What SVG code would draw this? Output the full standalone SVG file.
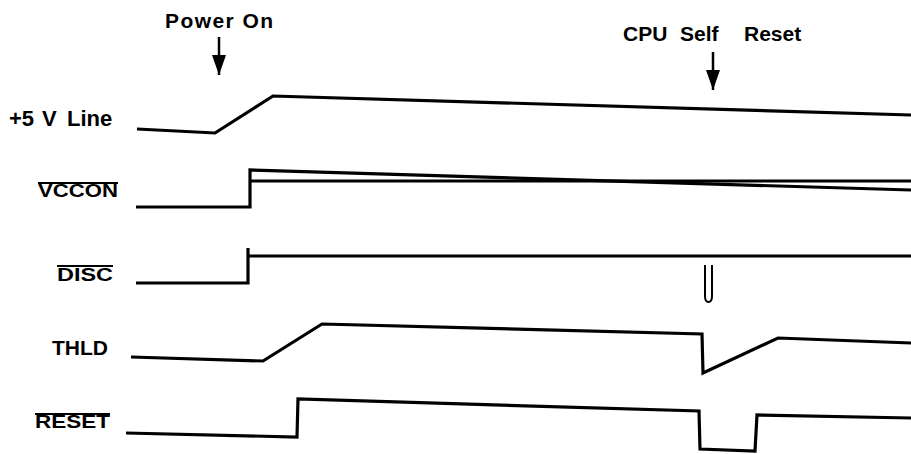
<svg xmlns="http://www.w3.org/2000/svg" width="911" height="454" viewBox="0 0 911 454">
<style>
.sig{fill:none;stroke:#000;stroke-width:3.2;stroke-linejoin:miter;stroke-linecap:butt}
.thin{fill:none;stroke:#000;stroke-width:2}
.lbl{font-family:"Liberation Sans",Arial,sans-serif;font-weight:bold;fill:#000}
.ov{stroke:#000;stroke-width:1.8}
.arr{stroke:#000;stroke-width:2.5;fill:none}
</style>
<defs>
<marker id="ah" viewBox="0 0 20 14" refX="20" refY="7" markerWidth="20" markerHeight="14" markerUnits="userSpaceOnUse" orient="auto">
<path d="M0,0 L20,7 L0,14 z" fill="#000"/>
</marker>
</defs>
<rect width="911" height="454" fill="#fff"/>
<g id="power-on">
<text class="lbl" x="165" y="28" font-size="21" textLength="108" lengthAdjust="spacing">Power On</text>
</g>
<g id="cpu-self-reset">
<text class="lbl" y="41" font-size="21"><tspan x="623">CPU</tspan><tspan x="680">Self</tspan><tspan x="744">Reset</tspan></text>
</g>
<g id="line-5v">
<text class="lbl" y="126" font-size="22"><tspan x="9">+5</tspan><tspan x="42">V</tspan><tspan x="67">Line</tspan></text>
<path class="sig" d="M137,129 L215,133 L273,96 L911,115"/>
</g>
<g id="vccon">
<text class="lbl" x="38" y="197" font-size="19" textLength="80" lengthAdjust="spacingAndGlyphs">VCCON</text>
<line class="ov" x1="38" y1="183" x2="118" y2="183"/>
<path class="sig" d="M136,207 L250,207 L250,170 L911,190"/>
<path class="sig" d="M251,181 L911,181"/>
</g>
<g id="disc">
<text class="lbl" x="57" y="281" font-size="19" textLength="56" lengthAdjust="spacingAndGlyphs">DISC</text>
<line class="ov" x1="57" y1="266" x2="113" y2="266"/>
<path class="sig" d="M136,283 L248,283 L248,248"/>
<path class="sig" d="M248,256 L911,256"/>
<path class="thin" d="M705,265 L705,296 Q705,302 708.5,302 Q712,302 712,296 L712,265"/>
</g>
<g id="thld">
<text class="lbl" x="52" y="355" font-size="20" textLength="56" lengthAdjust="spacingAndGlyphs">THLD</text>
<path class="sig" d="M131,357 L263,361 L322,324 L702,334 L703,373 L778,338 L911,343"/>
</g>
<g id="reset">
<text class="lbl" x="35" y="428" font-size="19" textLength="75" lengthAdjust="spacingAndGlyphs">RESET</text>
<line class="ov" x1="35" y1="414" x2="110" y2="414"/>
<path class="sig" d="M126,433 L297,437 L298,399 L699,411 L700,449 L755,451 L757,415 L911,418"/>
</g>
<g id="connectors">
<line class="arr" x1="219" y1="37" x2="219" y2="75" marker-end="url(#ah)"/>
<line class="arr" x1="713" y1="52" x2="713" y2="90" marker-end="url(#ah)"/>
</g>
</svg>
